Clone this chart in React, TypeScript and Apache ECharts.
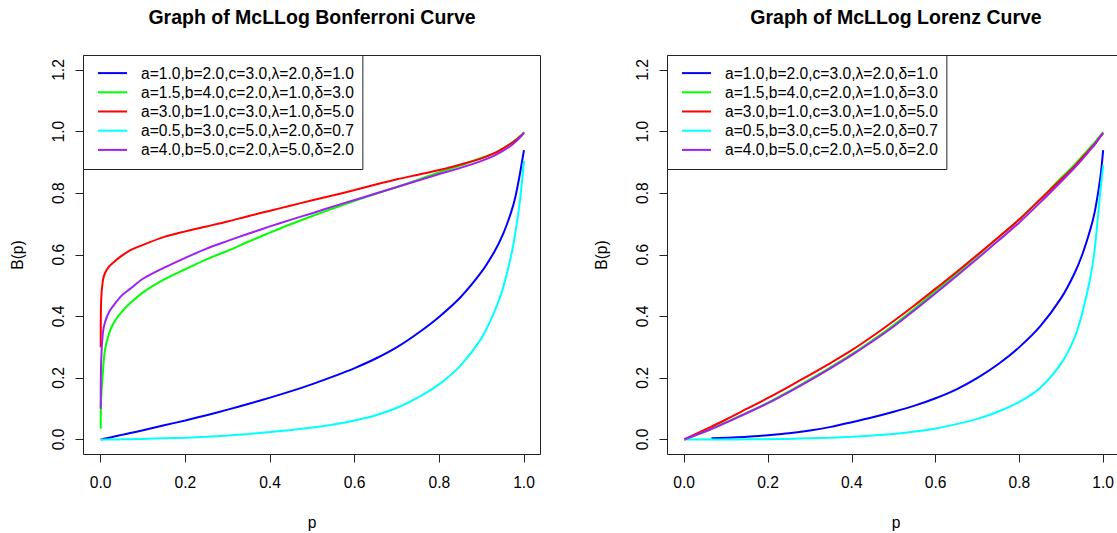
import React, { useEffect, useRef } from "react";
import * as echarts from "echarts";

// ---------- data ----------
const SERIES_NAMES = [
  "a=1.0,b=2.0,c=3.0,λ=2.0,δ=1.0",
  "a=1.5,b=4.0,c=2.0,λ=1.0,δ=3.0",
  "a=3.0,b=1.0,c=3.0,λ=1.0,δ=5.0",
  "a=0.5,b=3.0,c=5.0,λ=2.0,δ=0.7",
  "a=4.0,b=5.0,c=2.0,λ=5.0,δ=2.0",
];
const COLORS = ["#0000FF", "#00FF00", "#FF0000", "#00FFFF", "#A020F0"];

const TITLES = ["Graph of McLLog Bonferroni Curve", "Graph of McLLog Lorenz Curve"];
const X_NAME = "p";
const Y_NAME = "B(p)";

// Bonferroni panel
const P_LEFT = [0, 0.001, 0.005, 0.01, 0.02, 0.03, 0.05, 0.07, 0.1, 0.15, 0.2, 0.25, 0.3, 0.35, 0.4, 0.45, 0.5, 0.55, 0.6, 0.65, 0.7, 0.75, 0.8, 0.85, 0.9, 0.93, 0.95, 0.97, 0.98, 0.99, 0.995, 1.0];
const BONF_BLUE = [0, 0.0003, 0.0015, 0.003, 0.006, 0.009, 0.015, 0.021, 0.03, 0.046, 0.062, 0.079, 0.097, 0.116, 0.136, 0.157, 0.18, 0.205, 0.232, 0.263, 0.3, 0.346, 0.399, 0.462, 0.545, 0.61, 0.665, 0.74, 0.79, 0.86, 0.9, 0.94];
const BONF_GREEN = [0.035, 0.13, 0.215, 0.29, 0.345, 0.377, 0.415, 0.443, 0.478, 0.52, 0.553, 0.585, 0.613, 0.643, 0.672, 0.7, 0.726, 0.751, 0.775, 0.798, 0.82, 0.844, 0.868, 0.89, 0.915, 0.93, 0.945, 0.963, 0.973, 0.985, 0.99, 0.998];
const BONF_RED = [0.3, 0.45, 0.515, 0.54, 0.562, 0.575, 0.597, 0.615, 0.632, 0.658, 0.676, 0.692, 0.708, 0.726, 0.743, 0.76, 0.777, 0.793, 0.81, 0.828, 0.845, 0.86, 0.875, 0.893, 0.913, 0.93, 0.945, 0.962, 0.972, 0.983, 0.989, 0.995];
const BONF_CYAN = [0, 0, 0, 0, 0, 0.0003, 0.0005, 0.001, 0.002, 0.004, 0.006, 0.009, 0.013, 0.018, 0.024, 0.031, 0.039, 0.049, 0.062, 0.079, 0.103, 0.137, 0.18, 0.24, 0.33, 0.415, 0.49, 0.6, 0.675, 0.77, 0.835, 0.905];
const BONF_PURPLE = [0.1, 0.25, 0.345, 0.38, 0.415, 0.435, 0.468, 0.49, 0.522, 0.558, 0.59, 0.62, 0.645, 0.669, 0.692, 0.714, 0.735, 0.757, 0.778, 0.799, 0.82, 0.841, 0.862, 0.882, 0.905, 0.922, 0.937, 0.955, 0.967, 0.98, 0.988, 0.997];

// Lorenz panel
const P_RIGHT = [0, 0.065, 0.1, 0.15, 0.2, 0.25, 0.3, 0.35, 0.4, 0.45, 0.5, 0.55, 0.6, 0.65, 0.7, 0.75, 0.8, 0.85, 0.9, 0.93, 0.95, 0.97, 0.98, 0.99, 0.995, 1.0];
const LOR_BLUE = [null, 0.004, 0.006, 0.009, 0.014, 0.02, 0.029, 0.041, 0.056, 0.072, 0.09, 0.11, 0.134, 0.163, 0.2, 0.245, 0.3, 0.368, 0.46, 0.535, 0.6, 0.685, 0.74, 0.82, 0.87, 0.94];
const LOR_GREEN = [0, 0.035, 0.056, 0.087, 0.12, 0.156, 0.195, 0.235, 0.277, 0.323, 0.372, 0.425, 0.482, 0.539, 0.597, 0.656, 0.715, 0.78, 0.85, 0.89, 0.92, 0.95, 0.965, 0.982, 0.99, 0.998];
const LOR_RED = [0, 0.042, 0.065, 0.1, 0.135, 0.172, 0.21, 0.249, 0.29, 0.336, 0.385, 0.436, 0.49, 0.544, 0.6, 0.657, 0.715, 0.78, 0.845, 0.885, 0.915, 0.945, 0.96, 0.978, 0.987, 0.995];
const LOR_CYAN = [0, 0, 0, 0.0005, 0.001, 0.002, 0.004, 0.006, 0.009, 0.013, 0.018, 0.026, 0.036, 0.05, 0.067, 0.091, 0.122, 0.168, 0.248, 0.325, 0.41, 0.53, 0.62, 0.76, 0.83, 0.89];
const LOR_PURPLE = [0, 0.034, 0.055, 0.086, 0.118, 0.154, 0.192, 0.232, 0.274, 0.319, 0.367, 0.42, 0.475, 0.531, 0.588, 0.646, 0.705, 0.77, 0.838, 0.88, 0.91, 0.942, 0.958, 0.977, 0.986, 0.995];

const X_RANGE = [0, 1];
const Y_RANGE = [0, 1.2];
const TICK_STEP = 0.2;

// ---------- layout / style ----------
const FONT = "'Liberation Sans', Arial, Helvetica, sans-serif";
const FS = 15.6;
const INK = "#000";
const LINE_INK = "#222";

const PANELS = [
  { gridLeft: 100.7, boxLeft: 83.5, boxRight: 540.5 },
  { gridLeft: 684.2, boxLeft: 667.5, boxRight: 1124.5 },
];
const GRID_TOP = 70;
const GRID_H = 369.5;
const GRID_W = 423.3;
const BOX_TOP = 55.5;
const BOX_BOTTOM = 454.5;

function pairs(xs: number[], ys: (number | null)[]) {
  return xs.map((x, i) => [x, ys[i] === null ? "-" : ys[i]]);
}

export default function App() {
  const ref = useRef<HTMLDivElement>(null);

  useEffect(() => {
    if (!ref.current) return;
    const chart = echarts.init(ref.current, undefined, { renderer: "svg" });

    const leftData = [BONF_BLUE, BONF_GREEN, BONF_RED, BONF_CYAN, BONF_PURPLE];
    const rightData = [LOR_BLUE, LOR_GREEN, LOR_RED, LOR_CYAN, LOR_PURPLE];

    const series: any[] = [];
    [leftData, rightData].forEach((set, gi) => {
      const xs = gi === 0 ? P_LEFT : P_RIGHT;
      set.forEach((ys, si) => {
        series.push({
          type: "line",
          name: SERIES_NAMES[si],
          xAxisIndex: gi,
          yAxisIndex: gi,
          data: pairs(xs, ys as any),
          showSymbol: false,
          symbol: "none",
          clip: false,
          connectNulls: false,
          smooth: 0.3,
          lineStyle: { color: COLORS[si], width: 2 },
          itemStyle: { color: COLORS[si] },
          emphasis: { disabled: true },
          z: 2 + si,
        });
      });
    });

    const axisCommon = {
      type: "value",
      splitLine: { show: false },
      axisLine: { show: true, onZero: false, lineStyle: { color: LINE_INK, width: 1 } },
      axisTick: { show: true, length: 8, inside: false, lineStyle: { color: LINE_INK, width: 1 } },
    };

    const xAxis = PANELS.map((_, gi) => ({
      ...axisCommon,
      gridIndex: gi,
      position: "bottom",
      min: X_RANGE[0],
      max: X_RANGE[1],
      interval: TICK_STEP,
      offset: BOX_BOTTOM - (GRID_TOP + GRID_H),
      axisLabel: {
        show: true,
        fontSize: FS,
        fontFamily: FONT,
        color: INK,
        margin: 20,
        showMinLabel: true,
        showMaxLabel: true,
        formatter: (v: number) => v.toFixed(1),
      },
    }));

    const yAxis = PANELS.map((p, gi) => ({
      ...axisCommon,
      gridIndex: gi,
      position: "left",
      min: Y_RANGE[0],
      max: Y_RANGE[1],
      interval: TICK_STEP,
      offset: p.gridLeft - p.boxLeft,
      axisLabel: {
        show: true,
        rotate: 90,
        fontSize: FS,
        fontFamily: FONT,
        color: INK,
        margin: 17,
        showMinLabel: true,
        showMaxLabel: true,
        formatter: (v: number) => v.toFixed(1),
      },
    }));

    const grid = PANELS.map((p) => ({
      left: p.gridLeft,
      top: GRID_TOP,
      width: GRID_W,
      height: GRID_H,
      containLabel: false,
    }));

    const legend = PANELS.map((p) => ({
      show: true,
      orient: "vertical",
      left: p.boxLeft,
      top: BOX_TOP,
      data: SERIES_NAMES,
      icon: "rect",
      itemWidth: 29,
      itemHeight: 2,
      itemGap: 0,
      padding: [8, 9, 10, 14.5],
      borderColor: LINE_INK,
      borderWidth: 1,
      borderRadius: 0,
      backgroundColor: "#fff",
      selectedMode: false,
      inactiveColor: "#ccc",
      textStyle: {
        fontSize: FS,
        fontFamily: FONT,
        color: INK,
        lineHeight: 19.2,
        padding: [0, 0, 0, 9],
      },
    }));

    const graphic: any[] = [];
    PANELS.forEach((p, gi) => {
      const cx = (p.boxLeft + p.boxRight) / 2;
      graphic.push({
        type: "rect",
        silent: true,
        z: 1,
        shape: { x: p.boxLeft, y: BOX_TOP, width: p.boxRight - p.boxLeft, height: BOX_BOTTOM - BOX_TOP },
        style: { fill: "none", stroke: LINE_INK, lineWidth: 1 },
      });
      graphic.push({
        type: "text",
        silent: true,
        x: cx,
        y: 17,
        style: {
          text: TITLES[gi],
          font: `bold 19.5px ${FONT}`,
          fill: INK,
          textAlign: "center",
          textVerticalAlign: "middle",
        },
      });
      graphic.push({
        type: "text",
        silent: true,
        x: cx,
        y: 522,
        style: {
          text: X_NAME,
          font: `${FS}px ${FONT}`,
          fill: INK,
          textAlign: "center",
          textVerticalAlign: "middle",
        },
      });
      graphic.push({
        type: "text",
        silent: true,
        x: p.boxLeft - 66,
        y: (BOX_TOP + BOX_BOTTOM) / 2,
        rotation: Math.PI / 2,
        style: {
          text: Y_NAME,
          font: `${FS}px ${FONT}`,
          fill: INK,
          textAlign: "center",
          textVerticalAlign: "middle",
        },
      });
    });

    chart.setOption({
      animation: false,
      backgroundColor: "#fff",
      grid,
      xAxis,
      yAxis,
      legend,
      series,
      graphic,
    });

    return () => chart.dispose();
  }, []);

  return (
    <div
      ref={ref}
      style={{ position: "fixed", left: 0, top: 0, width: 1117, height: 533, background: "#fff" }}
    />
  );
}
